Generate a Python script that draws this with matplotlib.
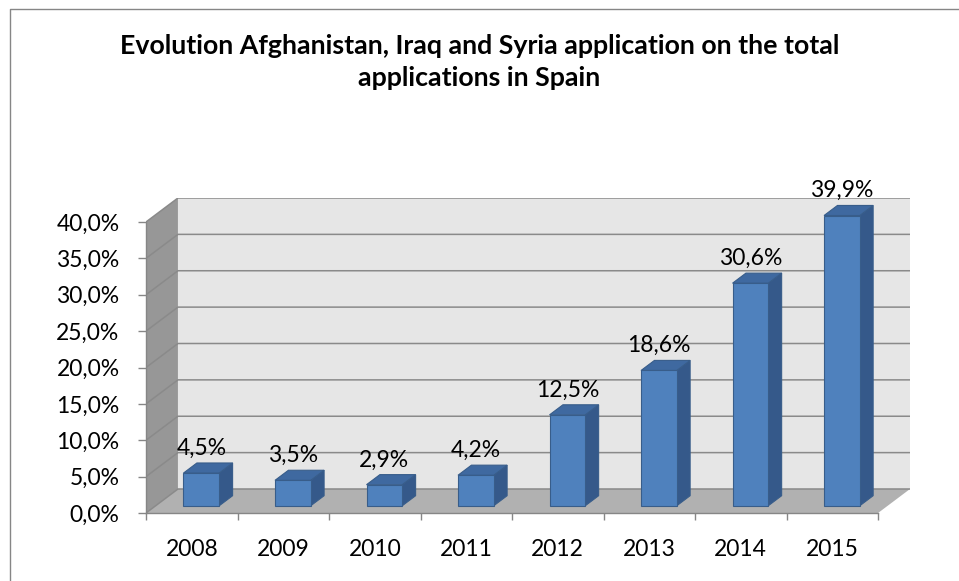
import numpy as np
import matplotlib.pyplot as plt
from matplotlib.patches import Polygon
from matplotlib.lines import Line2D

years = ['2008', '2009', '2010', '2011', '2012', '2013', '2014', '2015']
share = [4.5, 3.5, 2.9, 4.2, 12.5, 18.6, 30.6, 39.9]
yticks = np.arange(0, 41, 5)

# oblique depth of the 3d box (data units) and bar placement inside it
DX = 0.349
DY = 3.30
D0, D1 = 0.30, 0.72
BW = 0.39

plt.rcParams['font.family'] = ['Lato', 'DejaVu Sans']
FS = 16.5

fig = plt.figure(figsize=(9.59, 5.81), dpi=100, facecolor='white')
ax = fig.add_axes([146/959, 68/581, 764/959, 315/581])
n = len(years)
ymax = yticks[-1]
ax.set_xlim(0, n + DX)
ax.set_ylim(0, ymax + DY)
ax.patch.set_visible(False)

# back wall, side wall, floor
ax.add_patch(Polygon([(DX, DY), (n + DX, DY), (n + DX, ymax + DY), (DX, ymax + DY)],
                     closed=True, fc='#E6E6E6', ec='none', zorder=0))
ax.add_patch(Polygon([(0, 0), (DX, DY), (DX, ymax + DY), (0, ymax)],
                     closed=True, fc='#979797', ec='none', zorder=0))
ax.add_patch(Polygon([(0, 0), (n, 0), (n + DX, DY), (DX, DY)],
                     closed=True, fc='#B1B1B1', ec='none', zorder=0))

for v in yticks:
    ax.plot([0, DX, n + DX], [v, v + DY, v + DY], color='#8A8A8A', lw=1.1,
            zorder=1, solid_capstyle='butt')

# bars: front face through ax.bar, side and top as polygons
xs = np.arange(n) + 0.5 + D0 * DX
ax.bar(xs, share, width=BW, bottom=D0 * DY, color='#4F81BD',
       edgecolor='#385D8A', lw=0.8, zorder=4)
ddx = (D1 - D0) * DX
ddy = (D1 - D0) * DY
for xc, v in zip(xs, share):
    x0 = xc - BW / 2
    x1 = xc + BW / 2
    y0 = D0 * DY
    side = [(x1, y0), (x1 + ddx, y0 + ddy), (x1 + ddx, y0 + ddy + v), (x1, y0 + v)]
    top = [(x0, y0 + v), (x1, y0 + v), (x1 + ddx, y0 + v + ddy), (x0 + ddx, y0 + v + ddy)]
    ax.add_patch(Polygon(side, closed=True, fc='#35598A', ec='#385D8A', lw=0.8, zorder=3))
    ax.add_patch(Polygon(top, closed=True, fc='#3F69A0', ec='#385D8A', lw=0.8, zorder=3))
    ax.annotate(('%.1f%%' % v).replace('.', ','), (xc, v + D1 * DY),
                xytext=(0, 3), textcoords='offset points',
                ha='center', va='bottom', fontsize=FS, color='black', zorder=5)

# axes
for s in ['top', 'right']:
    ax.spines[s].set_visible(False)
ax.spines['left'].set_bounds(0, ymax)
ax.spines['bottom'].set_bounds(0, n)
for s in ['left', 'bottom']:
    ax.spines[s].set_color('#868686')
    ax.spines[s].set_linewidth(1.0)
    ax.spines[s].set_zorder(2)

ax.set_yticks(yticks)
ax.set_yticklabels([('%.1f%%' % v).replace('.', ',') for v in yticks])
ax.tick_params(axis='y', length=6, width=1, color='#868686', pad=13,
               labelsize=FS)
ax.set_xticks(np.arange(n + 1))
ax.set_xticklabels([])
ax.set_xticks(np.arange(n) + 0.5, minor=True)
ax.set_xticklabels(years, minor=True)
ax.tick_params(axis='x', which='major', length=5, width=1, color='#868686')
ax.tick_params(axis='x', which='minor', length=0, pad=19, labelsize=FS)

fig.text(0.5, 1 - 62/581,
         'Evolution Afghanistan, Iraq and Syria application on the total\napplications in Spain',
         ha='center', va='center', fontsize=19.3, weight='bold', linespacing=1.35)

# chart border
fig.add_artist(Line2D([9.5/959, 9.5/959, 1], [0, 1 - 8.5/581, 1 - 8.5/581],
                      transform=fig.transFigure, color='#868686', lw=1.0))

fig.savefig('out.png', dpi=100)
